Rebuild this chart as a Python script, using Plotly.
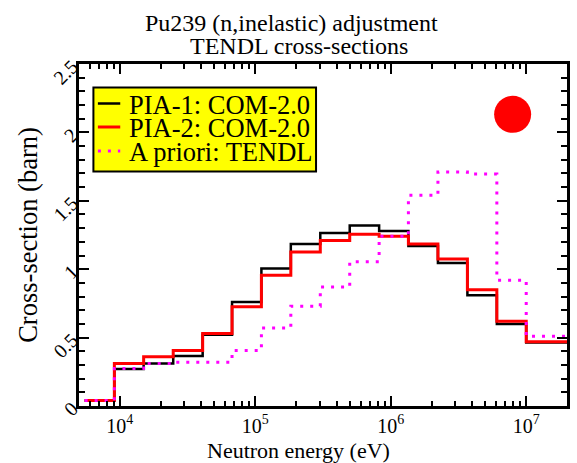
import plotly.graph_objects as go

# ---- data ----
edges = [5.5e3, 9.12e3, 1.50e4, 2.48e4, 4.09e4, 6.74e4, 1.11e5, 1.83e5, 3.02e5,
         4.98e5, 8.21e5, 1.35e6, 2.23e6, 3.68e6, 6.07e6, 1.0e7, 2.0e7]
pia1 = [0.04, 0.27, 0.31, 0.365, 0.52, 0.76, 1.005, 1.185, 1.265, 1.32, 1.28,
        1.17, 1.045, 0.81, 0.60, 0.465]
pia2 = [0.04, 0.31, 0.36, 0.405, 0.53, 0.725, 0.955, 1.125, 1.21, 1.255, 1.24,
        1.185, 1.075, 0.85, 0.62, 0.47]
prior = [0.04, 0.275, 0.31, 0.32, 0.32, 0.405, 0.57, 0.73, 0.87, 1.055, 1.24,
         1.54, 1.71, 1.695, 0.92, 0.51]
dot_x = [7.94e6]
dot_y = [2.132]
legend_names = ["PIA-1: COM-2.0", "PIA-2: COM-2.0", "A priori: TENDL"]
x_tickvals = [1e4, 1e5, 1e6, 1e7]
x_ticktext = ["10<sup>4</sup>", "10<sup>5</sup>", "10<sup>6</sup>", "10<sup>7</sup>"]
y_tickvals = [0, 0.5, 1, 1.5, 2, 2.5]
y_ticktext = ["0", "0.5", "1", "1.5", "2", "2.5"]

FONT = "Liberation Serif"
colors = ["black", "red", "magenta"]
widths = [2.5, 3, 3]
dashes = ["solid", "solid", "3px,7px"]

fig = go.Figure()
for name, vals, c, w, d in zip(legend_names, [pia1, pia2, prior], colors, widths, dashes):
    fig.add_trace(go.Scatter(
        x=edges, y=vals + [vals[-1]], mode="lines", line_shape="hv",
        line=dict(color=c, width=w, dash=d), name=name, showlegend=False))

fig.add_trace(go.Scatter(x=dot_x, y=dot_y, mode="markers",
                         marker=dict(color="red", size=37, line=dict(width=0)),
                         showlegend=False))

# ---- plot-area pixel geometry ----
L, R, T, B = 79, 570, 64, 406
W, H = 577, 463
def px(x):
    return (x - L) / (R - L)
def py(y):
    return (B - y) / (B - T)

shapes = []
annotations = []
# legend box
shapes.append(dict(type="rect", xref="paper", yref="paper",
                   x0=px(93.5), x1=px(317.5), y0=py(171.5), y1=py(87.5),
                   fillcolor="yellow", line=dict(color="black", width=2)))
rows = [103.5, 127, 151]
for name, c, w, d, ry in zip(legend_names, colors, widths, dashes, rows):
    shapes.append(dict(type="line", xref="paper", yref="paper",
                       x0=px(98), x1=px(120.5), y0=py(ry), y1=py(ry),
                       line=dict(color=c, width=w, dash=d)))
    annotations.append(dict(text=name, xref="paper", yref="paper",
                            x=px(127.5), y=py(ry + 1), xanchor="left", yanchor="middle",
                            showarrow=False, font=dict(family=FONT, size=26.5, color="black")))

annotations.append(dict(text="Pu239 (n,inelastic) adjustment", xref="paper", yref="paper",
                        x=px(293), y=py(23), xanchor="center", yanchor="middle",
                        showarrow=False, font=dict(family=FONT, size=24, color="black")))
annotations.append(dict(text="TENDL cross-sections", xref="paper", yref="paper",
                        x=px(300), y=py(45.5), xanchor="center", yanchor="middle",
                        showarrow=False, font=dict(family=FONT, size=24, color="black")))
annotations.append(dict(text="Neutron energy (eV)", xref="paper", yref="paper",
                        x=px(300), y=py(450.5), xanchor="center", yanchor="middle",
                        showarrow=False, font=dict(family=FONT, size=22, color="black")))

axis_common = dict(showline=True, linecolor="black", linewidth=2.5, mirror="allticks",
                   ticks="inside", tickcolor="black", tickwidth=2, ticklen=10,
                   showgrid=False, zeroline=False,
                   tickfont=dict(family=FONT, size=20, color="black"))

fig.update_layout(
    width=W, height=H,
    margin=dict(l=L, r=W - R, t=T, b=H - B),
    paper_bgcolor="white", plot_bgcolor="white",
    font=dict(family=FONT, color="black"),
    shapes=shapes, annotations=annotations,
    xaxis=dict(type="log", range=[3.69897, 7.30103], tickvals=x_tickvals,
               ticktext=x_ticktext,
               minor=dict(ticks="inside", dtick="D1", ticklen=5, tickwidth=2, tickcolor="black"),
               **axis_common),
    yaxis=dict(range=[0, 2.5], tickvals=y_tickvals, ticktext=y_ticktext, tickangle=-45,
               minor=dict(ticks="inside", dtick=0.1, ticklen=6, tickwidth=2, tickcolor="black"),
               title=dict(text="Cross-section (barn)", standoff=4,
                          font=dict(family=FONT, size=26.5, color="black")),
               **axis_common),
)

fig.write_html("out.html")
